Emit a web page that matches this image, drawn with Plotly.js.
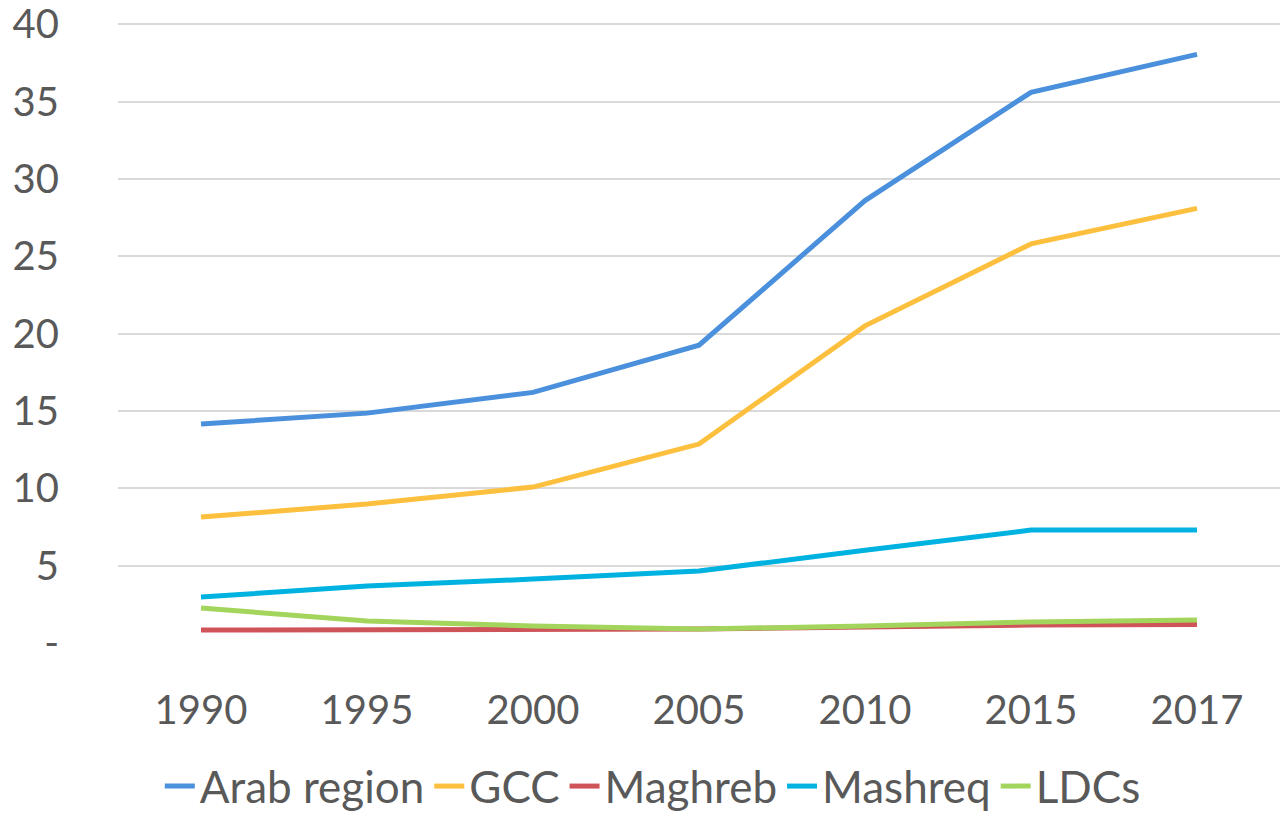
<!DOCTYPE html>
<html>
<head>
<meta charset="utf-8">
<script src="https://cdn.plot.ly/plotly-3.0.1.min.js"></script>
<style>
  html, body { margin: 0; padding: 0; background: #fff; }
  #chart { width: 1280px; height: 815px; }
</style>
</head>
<body>
<div id="chart"></div>
<script>
var years = ['1990', '1995', '2000', '2005', '2010', '2015', '2017'];

var arabRegion = [14.15, 14.86, 16.2, 19.25, 28.6, 35.6, 38.05];
var gcc = [8.14, 8.98, 10.08, 12.86, 20.5, 25.8, 28.1];
var maghreb = [0.84, 0.84, 0.9, 0.9, 1.03, 1.16, 1.2];
var mashreq = [2.97, 3.68, 4.13, 4.65, 6.0, 7.3, 7.3];
var ldcs = [2.26, 1.42, 1.1, 0.9, 1.1, 1.36, 1.49];

var yTicks = [0, 5, 10, 15, 20, 25, 30, 35, 40];
var yTickText = ['-', '5', '10', '15', '20', '25', '30', '35', '40'];

function line(name, y, color) {
    return {
        type: 'scatter',
        mode: 'lines',
        name: name,
        x: years,
        y: y,
        line: {color: color, width: 5}
    };
}

var data = [
    line('Arab region', arabRegion, '#4A90DC'),
    line('GCC', gcc, '#FDBF3E'),
    line('Maghreb', maghreb, '#CF5459'),
    line('Mashreq', mashreq, '#00B2E0'),
    line('LDCs', ldcs, '#A3D55C')
];

var layout = {
    width: 1280,
    height: 815,
    margin: {l: 118, r: 0, t: 23, b: 172},
    paper_bgcolor: '#fff',
    plot_bgcolor: '#fff',
    font: {family: 'Lato, "Open Sans", sans-serif', size: 40, color: '#595959'},
    hovermode: false,
    showlegend: true,
    xaxis: {
        type: 'category',
        range: [-0.5, 6.5],
        showgrid: false,
        zeroline: false,
        showline: false,
        ticks: '',
        ticklabelstandoff: 40,
        tickfont: {size: 40, color: '#595959'}
    },
    yaxis: {
        range: [0, 40.08],
        tickvals: yTicks,
        ticktext: yTickText,
        showgrid: true,
        gridcolor: '#D9D9D9',
        gridwidth: 2,
        zeroline: false,
        showline: false,
        ticks: '',
        ticklabelstandoff: 58,
        ticklabeloverflow: 'allow',
        tickfont: {size: 40, color: '#595959'}
    },
    legend: {
        orientation: 'h',
        xref: 'container',
        yref: 'container',
        x: 0.51,
        xanchor: 'center',
        y: 0.035,
        yanchor: 'middle',
        font: {size: 44, color: '#595959'},
        itemwidth: 30,
        tracegroupgap: 0
    }
};

Plotly.newPlot('chart', data, layout, {displayModeBar: false, staticPlot: true});
</script>
</body>
</html>
